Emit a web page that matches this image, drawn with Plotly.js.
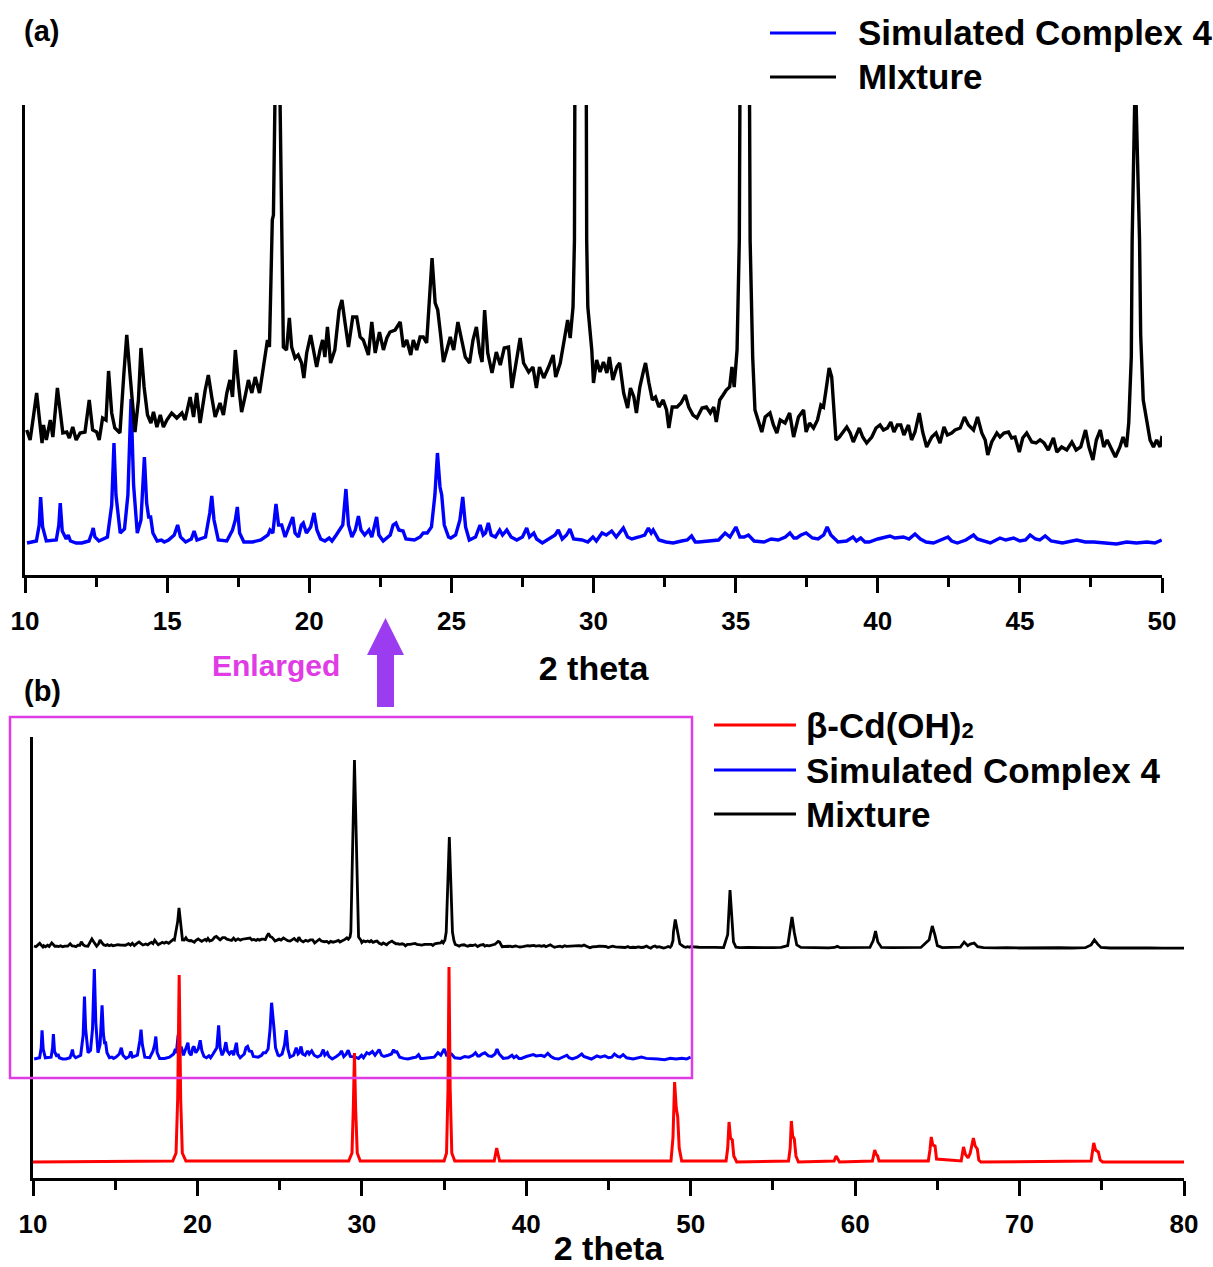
<!DOCTYPE html>
<html>
<head>
<meta charset="utf-8">
<script src="https://cdn.plot.ly/plotly-3.0.1.min.js"></script>
<style>html,body{margin:0;padding:0;background:#fff;}#chart{width:1213px;height:1267px;}</style>
</head>
<body>
<div id="chart"></div>
<script>
// ---------------- data (intensity in arbitrary units) ----------------
const mixtureX = [
10.06,10.18,10.27,10.41,10.50,10.60,10.65,10.75,10.89,10.98,
11.14,11.24,11.33,11.47,11.56,11.68,11.80,11.94,12.11,12.26,
12.38,12.52,12.61,12.73,12.85,12.94,13.05,13.16,13.34,13.48,
13.58,13.69,13.87,13.99,14.08,14.19,14.31,14.43,14.52,14.64,
14.76,14.87,14.99,15.16,15.34,15.52,15.63,15.81,15.93,16.04,
16.16,16.34,16.45,16.57,16.69,16.86,16.98,17.10,17.21,17.30,
17.40,17.52,17.62,17.74,17.86,17.98,18.10,18.25,18.39,18.53,
18.60,18.66,18.70,18.74,18.80,18.88,18.97,19.03,19.06,19.09,
19.20,19.30,19.38,19.50,19.61,19.73,19.81,19.91,20.05,20.17,
20.26,20.38,20.47,20.55,20.64,20.75,20.90,21.05,21.15,21.26,
21.38,21.53,21.67,21.79,21.90,22.08,22.20,22.32,22.47,22.61,
22.73,22.84,23.02,23.20,23.31,23.43,23.57,23.66,23.78,23.90,
24.01,24.13,24.22,24.32,24.43,24.52,24.63,24.72,24.84,24.96,
25.08,25.23,25.34,25.49,25.64,25.76,25.88,26.00,26.08,26.17,
26.28,26.43,26.58,26.72,26.86,27.01,27.13,27.28,27.42,27.54,
27.72,27.87,27.99,28.10,28.25,28.42,28.58,28.67,28.83,28.97,
29.09,29.18,29.28,29.33,29.55,29.76,29.80,29.94,30.00,30.11,
30.23,30.35,30.47,30.56,30.68,30.82,30.92,31.06,31.20,31.30,
31.42,31.51,31.63,31.75,31.83,31.95,32.07,32.18,32.30,32.45,
32.57,32.65,32.77,32.94,33.08,33.23,33.35,33.50,33.64,33.82,
33.97,34.11,34.23,34.32,34.44,34.56,34.67,34.79,34.87,34.95,
35.05,35.13,35.32,35.51,35.60,35.68,35.80,35.92,36.04,36.21,
36.33,36.45,36.57,36.74,36.90,37.04,37.21,37.33,37.39,37.48,
37.60,37.74,37.88,38.00,38.09,38.18,38.29,38.38,38.44,38.53,
38.65,38.79,38.91,39.03,39.14,39.35,39.47,39.61,39.79,39.94,
40.08,40.20,40.34,40.46,40.57,40.69,40.81,40.92,41.08,41.19,
41.31,41.46,41.58,41.72,41.90,42.05,42.19,42.33,42.45,42.60,
42.72,42.90,43.05,43.19,43.37,43.51,43.66,43.78,43.87,44.01,
44.19,44.30,44.44,44.60,44.71,44.83,44.98,45.10,45.24,45.42,
45.57,45.71,45.85,46.00,46.18,46.30,46.47,46.65,46.83,46.98,
47.14,47.31,47.43,47.57,47.69,47.83,47.95,48.07,48.21,48.36,
48.52,48.63,48.75,48.83,48.92,48.95,49.06,49.21,49.25,49.34,
49.46,49.58,49.70,49.81,49.93,49.99,
50.5,51.0,51.5,52.0,52.25,52.39,52.5,52.6,52.75,53.0,
53.5,54.0,54.5,55.0,55.5,55.9,56.05,56.16,56.3,56.45,
56.7,57.2,57.8,58.4,58.75,58.91,59.1,59.7,60.3,60.9,
61.1,61.24,61.38,61.6,62.2,62.8,63.4,64.0,64.5,64.69,
64.85,65.0,65.3,65.9,66.4,66.63,66.85,67.0,67.24,67.45,
67.8,68.5,69.2,70.0,70.8,71.6,72.4,73.2,74.0,74.35,
74.55,74.75,74.95,75.5,76.3,77.1,77.9,78.7,79.5,80.0
];
const mixtureY = [
145,135,153,182,158,132,150,135,155,138,
187,162,142,143,137,148,135,142,143,175,
145,143,135,157,155,204,162,147,142,202,
240,202,143,175,227,188,160,152,163,148,
160,148,155,162,157,162,155,178,158,182,
152,185,200,178,158,172,160,182,195,178,
225,188,163,178,195,182,198,182,208,235,
228,300,355,360,480,662,480,335,260,228,
225,257,228,217,220,212,197,222,240,222,
208,225,235,218,248,212,225,265,275,252,
228,258,258,238,235,220,253,222,243,225,
237,243,245,253,228,235,220,235,225,238,
238,232,275,317,272,265,238,213,225,238,
225,253,238,218,212,235,248,222,213,265,
222,202,223,210,227,228,187,213,237,212,
203,208,187,208,197,208,220,198,212,235,
255,237,268,335,2675,335,268,225,192,215,
203,213,202,218,195,208,212,182,167,187,
178,162,188,203,212,192,175,178,168,175,
165,147,168,168,172,180,168,160,157,167,
168,162,168,153,175,180,185,188,208,188,
225,335,1627,335,218,165,155,143,158,162,
150,142,155,152,162,138,158,163,165,143,
152,147,155,170,168,185,207,198,175,135,
138,143,148,142,133,147,138,132,138,147,
150,145,147,153,143,150,150,140,150,135,
143,162,143,128,138,142,132,148,140,142,
145,147,158,150,145,158,142,135,120,133,
142,138,142,143,137,138,123,137,142,133,
132,135,132,125,137,123,128,125,133,125,
128,145,128,115,135,145,128,135,127,118,
128,138,128,152,218,335,505,335,240,175,
155,135,128,135,128,137,
128,122,126,124,300,907,450,200,130,122,
125,120,124,122,125,150,400,539,330,160,
125,122,126,120,125,140,122,124,120,126,
220,349,200,125,122,124,120,125,230,417,
295,150,124,122,130,199,150,170,186,135,
122,120,124,118,122,119,121,118,122,160,
227,170,125,118,120,116,119,115,117,116
];
const simulatedX = [
10.07,10.40,10.50,10.55,10.62,10.75,11.10,11.19,11.24,11.31,
11.45,11.52,11.60,11.80,12.00,12.25,12.35,12.40,12.46,12.60,
12.90,13.05,13.13,13.20,13.35,13.50,13.62,13.73,13.82,13.95,
14.08,14.20,14.28,14.35,14.42,14.50,14.65,14.80,14.90,15.05,
15.25,15.37,15.47,15.65,15.85,15.95,16.05,16.35,16.50,16.57,
16.65,16.80,17.10,17.30,17.40,17.47,17.55,17.70,18.00,18.30,
18.55,18.62,18.72,18.83,18.92,19.03,19.15,19.30,19.42,19.50,
19.62,19.72,19.79,19.90,20.05,20.17,20.27,20.40,20.55,20.70,
20.80,20.95,21.08,21.18,21.29,21.38,21.50,21.62,21.73,21.82,
21.95,22.10,22.20,22.30,22.37,22.45,22.60,22.85,22.95,23.05,
23.15,23.30,23.40,23.70,23.90,24.01,24.15,24.30,24.42,24.51,
24.60,24.66,24.75,24.90,24.98,25.15,25.30,25.40,25.50,25.63,
25.85,26.01,26.12,26.20,26.30,26.40,26.55,26.70,26.80,26.95,
27.10,27.30,27.50,27.65,27.75,27.90,28.00,28.20,28.45,28.65,
28.76,28.90,29.05,29.17,29.30,29.60,29.80,29.98,30.10,30.30,
30.45,30.64,30.80,31.05,31.20,31.35,31.60,31.80,31.93,32.03,
32.10,32.30,32.55,32.80,33.10,33.30,33.45,33.58,33.70,33.95,
34.20,34.40,34.63,34.80,35.01,35.15,35.30,35.45,35.65,36.00,
36.25,36.50,36.75,36.91,37.05,37.15,37.30,37.48,37.70,37.90,
38.10,38.22,38.35,38.60,38.90,39.13,39.25,39.40,39.55,39.70,
40.00,40.20,40.43,40.60,40.90,41.10,41.31,41.50,41.70,41.96,
42.20,42.47,42.60,42.80,43.10,43.37,43.50,43.70,43.96,44.30,
44.50,44.78,45.00,45.20,45.36,45.55,45.70,45.89,46.10,46.50,
46.80,47.00,47.30,47.60,48.00,48.40,48.76,49.10,49.47,49.75,
49.99
];
const simulatedY = [
32,34,50,78,48,34,35,50,72,44,
36,40,34,32,32,34,42,47,38,34,
38,70,132,80,42,46,80,176,90,42,
55,118,72,58,58,42,34,35,33,35,
40,50,38,33,36,44,35,38,62,79,
55,35,34,45,55,68,42,33,33,35,
40,45,42,71,50,50,38,48,58,42,
38,50,52,42,48,62,45,36,34,37,
34,40,45,50,86,50,38,45,59,45,
40,45,38,48,58,40,34,40,50,52,
45,44,36,35,38,42,42,48,80,122,
88,80,50,38,37,40,55,78,48,35,
38,50,40,42,52,40,38,45,40,45,
38,35,38,47,38,42,36,32,36,40,
45,36,40,46,36,35,33,38,34,42,
40,44,38,47,38,36,38,40,47,42,
45,35,33,32,34,35,39,33,33,34,
35,35,42,38,48,38,38,40,34,33,
36,35,38,42,37,37,40,42,37,36,
40,48,40,33,34,38,34,37,33,33,
36,37,39,37,38,36,41,36,33,32,
35,38,34,32,35,40,36,34,32,37,
35,37,34,35,40,36,35,39,34,32,
34,35,33,33,32,31,33,32,33,32,
35
];
const cdOH2X = [
10.0,18.5,18.7,18.8,18.89,18.98,19.08,19.3,29.2,29.4,
29.48,29.55,29.62,29.72,29.9,35.0,35.15,35.24,35.3,35.37,
35.47,35.65,38.05,38.13,38.2,38.28,38.38,48.8,48.92,49.02,
49.12,49.21,49.3,49.45,52.15,52.25,52.33,52.42,52.53,52.62,
52.8,55.95,56.05,56.12,56.2,56.3,56.4,56.55,58.72,58.84,
58.95,59.05,61.05,61.13,61.19,61.27,61.37,61.45,64.45,64.55,
64.63,64.72,64.86,64.95,66.45,66.52,66.59,66.7,66.87,67.0,
67.1,67.19,67.3,67.43,67.52,67.65,74.35,74.45,74.51,74.62,
74.79,74.9,75.05,80.0
];
const cdOH2Y = [
16,17,25,80,203,80,25,17,17,25,
70,125,70,25,17,17,25,90,211,90,
25,17,17,24,30,24,17,17,40,96,
70,61,30,17,17,30,56,40,38,22,
16,17,30,57,42,39,22,16,17,22,
18,16,17,22,28,24,22,17,17,28,
41,33,32,19,17,24,31,24,20,25,
34,40,32,29,18,16,17,26,35,28,
26,18,16,16
];
const ticksA = [10,15,20,25,30,35,40,45,50];
const minorTicksA = [12.5,17.5,22.5,27.5,32.5,37.5,42.5,47.5];
const ticksB = [10,20,30,40,50,60,70,80];
const minorTicksB = [15,25,35,45,55,65,75];

// ---------------- layout helpers ----------------
const W = 1213, H = 1267;
function fx(p){ return p / W; }
function fy(p){ return 1 - p / H; }
const FONT = 'Liberation Sans, Arial, Helvetica, sans-serif';
const domA = [fy(575), fy(105)];
const domB = [fy(1178), fy(737)];

const traces = [
  {x: simulatedX, y: simulatedY, xaxis:'x', yaxis:'y', mode:'lines', line:{color:'#0000ff', width:3.4}, name:'Simulated Complex 4'},
  {x: mixtureX, y: mixtureY, xaxis:'x', yaxis:'y', mode:'lines', line:{color:'#000000', width:3.4}, name:'MIxture'},
  // panel (b): each pattern stacked with its own vertical offset/scale (same domain)
  {x: mixtureX, y: mixtureY, xaxis:'x2', yaxis:'y2', mode:'lines', line:{color:'#000000', width:2.8}, name:'Mixture'},
  {x: simulatedX, y: simulatedY, xaxis:'x2', yaxis:'y3', mode:'lines', line:{color:'#0000ff', width:3}, name:'Simulated Complex 4'},
  {x: cdOH2X, y: cdOH2Y, xaxis:'x2', yaxis:'y4', mode:'lines', line:{color:'#ff0000', width:3}, name:'β-Cd(OH)2'}
];

const tickfont = {family: FONT, size: 26, color:'#000', weight:'bold'};
const baseX = {
  ticks:'outside', ticklen:15, tickwidth:3, tickcolor:'#000',
  showline:true, linewidth:3, linecolor:'#000', mirror:false,
  showgrid:false, zeroline:false, tickfont: tickfont, tickmode:'array',
  ticklabelstandoff: 6, fixedrange:true
};
const hiddenY = {showline:false, showticklabels:false, ticks:'', showgrid:false, zeroline:false, fixedrange:true};
const layout = {
  width: W, height: H,
  margin: {l:0, r:0, t:0, b:0, pad:0},
  paper_bgcolor:'#fff', plot_bgcolor:'rgba(0,0,0,0)',
  showlegend:false,
  font: {family: FONT, color:'#000'},
  xaxis: Object.assign({}, baseX, {
    domain:[fx(25), fx(1162)], range:[10,50], anchor:'y',
    tickvals: ticksA, ticktext: ticksA.map(String),
    minor:{tickmode:'array', tickvals: minorTicksA, ticks:'outside', ticklen:9, tickwidth:3, tickcolor:'#000'},
    title:{text:'2 theta', font:{family:FONT, size:34, color:'#000', weight:'bold'}, standoff:21}
  }),
  yaxis: {
    domain: domA, range:[0,470], anchor:'x',
    showline:true, linewidth:3, linecolor:'#000', ticks:'', showticklabels:false,
    showgrid:false, zeroline:false, fixedrange:true
  },
  xaxis2: Object.assign({}, baseX, {
    domain:[fx(33), fx(1184)], range:[10,80], anchor:'y2',
    tickvals: ticksB, ticktext: ticksB.map(String),
    minor:{tickmode:'array', tickvals: minorTicksB, ticks:'outside', ticklen:9, tickwidth:3, tickcolor:'#000'},
    title:{text:'2 theta', font:{family:FONT, size:34, color:'#000', weight:'bold'}, standoff:6}
  }),
  yaxis2: {
    domain: domB, anchor:'x2', range:[145 - 232*13.6, 145 + 209*13.6],
    showline:true, linewidth:3, linecolor:'#000', ticks:'', showticklabels:false,
    showgrid:false, zeroline:false, fixedrange:true
  },
  yaxis3: Object.assign({}, hiddenY, {domain: domB, anchor:'x2', range:[32 - 119/0.625, 32 + 322/0.625]}),
  yaxis4: Object.assign({}, hiddenY, {domain: domB, anchor:'x2', range:[0,441]}),
  shapes: [
    {type:'rect', xref:'paper', yref:'paper', x0:fx(10), x1:fx(692), y0:fy(1078), y1:fy(717),
     line:{color:'#e03ce6', width:2.5}, fillcolor:'rgba(0,0,0,0)', layer:'above'},
    {type:'path', xref:'paper', yref:'paper',
     path: 'M '+fx(377)+','+fy(707)+' L '+fx(377)+','+fy(655)+' L '+fx(367)+','+fy(655)+' L '+fx(385.5)+','+fy(618)+
           ' L '+fx(404)+','+fy(655)+' L '+fx(394)+','+fy(655)+' L '+fx(394)+','+fy(707)+' Z',
     fillcolor:'#9b3cf0', line:{width:0}},
    {type:'line', xref:'paper', yref:'paper', x0:fx(770), x1:fx(836), y0:fy(33), y1:fy(33), line:{color:'#0000ff', width:3}},
    {type:'line', xref:'paper', yref:'paper', x0:fx(770), x1:fx(836), y0:fy(77), y1:fy(77), line:{color:'#000000', width:3}},
    {type:'line', xref:'paper', yref:'paper', x0:fx(714), x1:fx(796), y0:fy(725), y1:fy(725), line:{color:'#ff0000', width:3}},
    {type:'line', xref:'paper', yref:'paper', x0:fx(714), x1:fx(796), y0:fy(770), y1:fy(770), line:{color:'#0000ff', width:3}},
    {type:'line', xref:'paper', yref:'paper', x0:fx(714), x1:fx(796), y0:fy(814), y1:fy(814), line:{color:'#000000', width:3}}
  ],
  annotations: [
    {xref:'paper', yref:'paper', x:fx(22), y:fy(31), xanchor:'left', yanchor:'middle', showarrow:false,
     text:'(a)', font:{family:FONT, size:29, color:'#000', weight:'bold'}},
    {xref:'paper', yref:'paper', x:fx(22), y:fy(691), xanchor:'left', yanchor:'middle', showarrow:false,
     text:'(b)', font:{family:FONT, size:29, color:'#000', weight:'bold'}},
    {xref:'paper', yref:'paper', x:fx(276), y:fy(665), xanchor:'center', yanchor:'middle', showarrow:false,
     text:'Enlarged', font:{family:FONT, size:30, color:'#e03ce6', weight:'bold'}},
    {xref:'paper', yref:'paper', x:fx(856), y:fy(33), xanchor:'left', yanchor:'middle', showarrow:false,
     text:'Simulated Complex 4', font:{family:FONT, size:35, color:'#000', weight:'bold'}},
    {xref:'paper', yref:'paper', x:fx(856), y:fy(77), xanchor:'left', yanchor:'middle', showarrow:false,
     text:'MIxture', font:{family:FONT, size:35, color:'#000', weight:'bold'}},
    {xref:'paper', yref:'paper', x:fx(804), y:fy(725), xanchor:'left', yanchor:'middle', showarrow:false,
     text:'β-Cd(OH)<span style="font-size:22px">2</span>', font:{family:FONT, size:35, color:'#000', weight:'bold'}},
    {xref:'paper', yref:'paper', x:fx(804), y:fy(770), xanchor:'left', yanchor:'middle', showarrow:false,
     text:'Simulated Complex 4', font:{family:FONT, size:35, color:'#000', weight:'bold'}},
    {xref:'paper', yref:'paper', x:fx(804), y:fy(814), xanchor:'left', yanchor:'middle', showarrow:false,
     text:'Mixture', font:{family:FONT, size:35, color:'#000', weight:'bold'}}
  ]
};
Plotly.newPlot('chart', traces, layout, {staticPlot:true, displayModeBar:false});
</script>
</body>
</html>
